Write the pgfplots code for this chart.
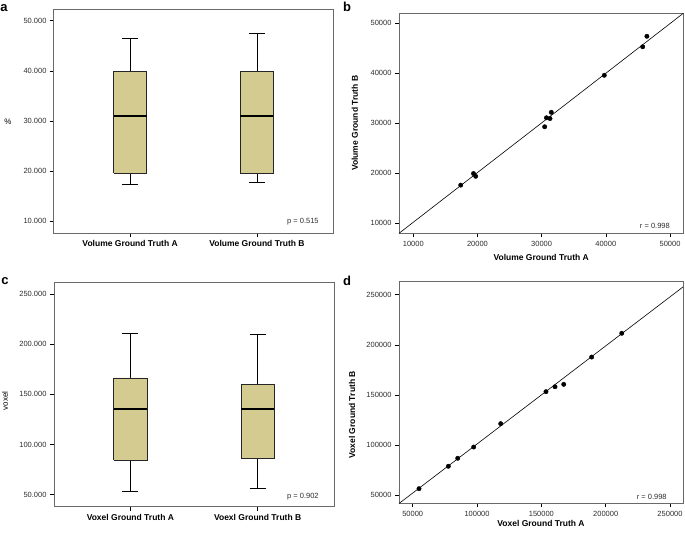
\documentclass[border=0pt]{standalone}
\usepackage{fontspec}
\setmainfont{Liberation Sans}
\usepackage{pgfplots}
\pgfplotsset{compat=1.18}

\definecolor{boxfill}{RGB}{212,203,145}
\definecolor{framegray}{RGB}{105,105,105}
\definecolor{ticktext}{RGB}{45,45,45}

\tikzset{
  note/.style={font=\fontsize{7.5}{8}\selectfont, text=ticktext},
  letter/.style={font=\fontsize{13}{14}\selectfont\bfseries}
}
\pgfplotsset{
  panel/.style={scale only axis, anchor=south west, clip=false,
    axis line style={framegray, line width=1pt},
    tick style={black, line width=0.5pt},
    major tick length=4pt, tick align=outside,
    xtick pos=bottom, ytick pos=left,
    tick label style={font=\fontsize{7.5}{8}\selectfont, text=ticktext},
    /pgf/number format/assume math mode=true,
    scaled ticks=false,
    label style={font=\fontsize{8.5}{9}\selectfont\bfseries}},
  bxpanel/.style={panel, xmin=0.4, xmax=2.6, xtick={1,2},
    xticklabel style={font=\fontsize{8.5}{9}\selectfont\bfseries, text=black},
    yticklabel style={/pgf/number format/.cd, fixed, fixed zerofill, precision=3}},
  box/.style={fill=boxfill, draw=black!85, line width=0.7pt, line join=miter},
  whisk/.style={black, line width=0.6pt},
  med/.style={black, line width=1.6pt},
  scpanel/.style={panel, /pgf/number format/fixed, /pgf/number format/1000 sep={}},
  pts/.style={only marks, mark=*, mark size=2.2pt, black},
  fit/.style={black, line width=0.6pt}
}

\begin{document}
\begin{tikzpicture}
\path[use as bounding box] (0,0) rectangle (685pt,537pt);

% a: volume box plot (whisker, whisker cap, box, median)
\begin{axis}[bxpanel, at={(54pt,303.7pt)}, width=279pt, height=223.3pt,
  ymin=7.544, ymax=52.137, ytick={10,20,30,40,50},
  xticklabels={Volume Ground Truth A, Volume Ground Truth B},
  ylabel={\%}, ylabel style={font=\fontsize{8}{9}\selectfont, rotate=-90, at={(axis description cs:-0.165,0.5)}, anchor=center}]
  \addplot[whisk] coordinates {(1,17.3) (1,46.5)};
  \addplot[whisk] coordinates {(0.9375,17.3) (1.0625,17.3)};
  \addplot[whisk] coordinates {(0.9375,46.5) (1.0625,46.5)};
  \addplot[box] coordinates {(0.87,19.6) (1.13,19.6) (1.13,39.9) (0.87,39.9) (0.87,19.6)};
  \addplot[med] coordinates {(0.87,31.0) (1.13,31.0)};
  \addplot[whisk] coordinates {(2,17.7) (2,47.4)};
  \addplot[whisk] coordinates {(1.9375,17.7) (2.0625,17.7)};
  \addplot[whisk] coordinates {(1.9375,47.4) (2.0625,47.4)};
  \addplot[box] coordinates {(1.87,19.6) (2.13,19.6) (2.13,39.9) (1.87,39.9) (1.87,19.6)};
  \addplot[med] coordinates {(1.87,31.0) (2.13,31.0)};
  \node[note] at (axis description cs:0.892,0.051) {p = 0.515};
  \node[letter] at (axis description cs:-0.179,1.008) {a};
\end{axis}

% b: volume scatter
\begin{axis}[scpanel, at={(399pt,303.7pt)}, width=284.3pt, height=220pt,
  xmin=7772, xmax=52072, ymin=8000, ymax=52000,
  xtick={10000,20000,30000,40000,50000}, ytick={10000,20000,30000,40000,50000},
  xlabel={Volume Ground Truth A}, ylabel={Volume Ground Truth B},
  xlabel style={at={(axis description cs:0.5,-0.112)}, anchor=center},
  ylabel style={at={(axis description cs:-0.155,0.5)}, anchor=center}]
  \addplot[fit] coordinates {(7772,8000) (52072,52000)};
  \addplot[pts] coordinates {
    (17390,17630) (19380,19950) (19720,19400) (30470,29300) (30750,31100)
    (31300,30950) (31500,32200) (39760,39600) (45740,45300) (46400,47400)};
  \node[note] at (axis description cs:0.90,0.033) {r = 0.998};
  \node[letter] at (axis description cs:-0.183,1.028) {b};
\end{axis}

% c: voxel box plot
\begin{axis}[bxpanel, at={(54pt,30pt)}, width=280pt, height=224.7pt,
  ymin=37.74, ymax=261.66, ytick={50,100,150,200,250},
  xticklabels={Voxel Ground Truth A, Voexl Ground Truth B},
  ylabel={voxel}, ylabel style={font=\fontsize{8}{9}\selectfont, at={(axis description cs:-0.175,0.472)}, anchor=center}]
  \addplot[whisk] coordinates {(1,53.6) (1,210.8)};
  \addplot[whisk] coordinates {(0.9375,53.6) (1.0625,53.6)};
  \addplot[whisk] coordinates {(0.9375,210.8) (1.0625,210.8)};
  \addplot[box] coordinates {(0.87,84.6) (1.13,84.6) (1.13,166.3) (0.87,166.3) (0.87,84.6)};
  \addplot[med] coordinates {(0.87,135.1) (1.13,135.1)};
  \addplot[whisk] coordinates {(2,55.9) (2,209.8)};
  \addplot[whisk] coordinates {(1.9375,55.9) (2.0625,55.9)};
  \addplot[whisk] coordinates {(1.9375,209.8) (2.0625,209.8)};
  \addplot[box] coordinates {(1.87,85.9) (2.13,85.9) (2.13,159.6) (1.87,159.6) (1.87,85.9)};
  \addplot[med] coordinates {(1.87,135.1) (2.13,135.1)};
  \node[note] at (axis description cs:0.889,0.045) {p = 0.902};
  \node[letter] at (axis description cs:-0.175,1.006) {c};
\end{axis}

% d: voxel scatter
\begin{axis}[scpanel, at={(399pt,33.5pt)}, width=284pt, height=221.5pt,
  xmin=39350, xmax=260100, ymin=41800, ymax=262660,
  xtick={50000,100000,150000,200000,250000}, ytick={50000,100000,150000,200000,250000},
  xlabel={Voxel Ground Truth A}, ylabel={Voxel Ground Truth B},
  xlabel style={at={(axis description cs:0.5,-0.088)}, anchor=center},
  ylabel style={at={(axis description cs:-0.165,0.4)}, anchor=center}]
  \addplot[fit] coordinates {(39350,41800) (260100,257700)};
  \addplot[pts] coordinates {
    (54900,56580) (77700,78900) (85000,86900) (97400,98100) (118400,121400)
    (153600,153300) (160600,158200) (167400,160600) (189100,187800) (212500,211500)};
  \node[note] at (axis description cs:0.89,0.03) {r = 0.998};
  \node[letter] at (axis description cs:-0.183,1.005) {d};
\end{axis}
\end{tikzpicture}
\end{document}
